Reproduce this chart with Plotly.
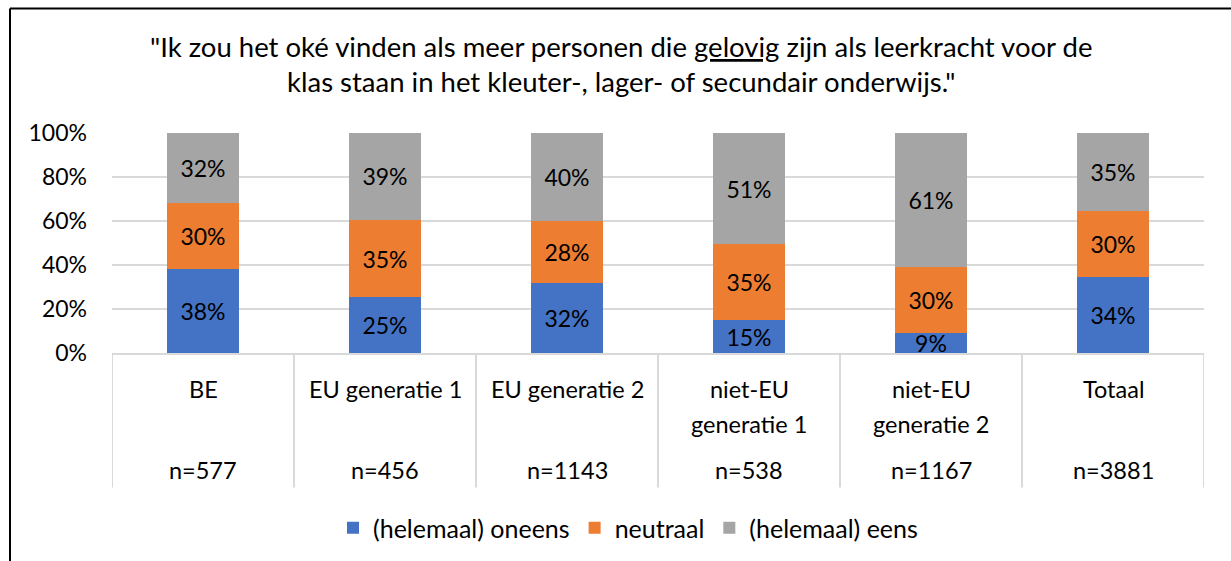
import plotly.graph_objects as go

# Chart data
categories = ['BE', 'EU generatie 1', 'EU generatie 2',
              'niet-EU\ngeneratie 1', 'niet-EU\ngeneratie 2', 'Totaal']
sample_sizes = ['n=577', 'n=456', 'n=1143', 'n=538', 'n=1167', 'n=3881']
series_names = ['(helemaal) oneens', 'neutraal', '(helemaal) eens']
oneens = [38, 25, 32, 15, 9, 34]
neutraal = [30, 35, 28, 35, 30, 30]
eens = [32, 39, 40, 51, 61, 35]
colors = ['#4472C4', '#ED7D31', '#A5A5A5']
title_lines = ['"Ik zou het oké vinden als meer personen die <u>gelovig</u> zijn als leerkracht voor de',
               'klas staan in het kleuter-, lager- of secundair onderwijs."']

# Page geometry (pixels)
W, H = 1231, 561
L, R, T, B = 112, 27, 133, 207
pw = W - L - R
ph = H - T - B


def px_x(x):
    return (x - L) / pw


def px_y(y):
    return (H - B - y) / ph


font_family = 'Lato, Carlito, Calibri, sans-serif'
x_pos = list(range(len(categories)))

fig = go.Figure()
for name, values, color in zip(series_names, [oneens, neutraal, eens], colors):
    fig.add_trace(go.Bar(
        x=x_pos, y=values, name=name,
        marker=dict(color=color, line=dict(width=0)),
        width=0.4,
        text=[f'{v}%' for v in values],
        textposition='inside', insidetextanchor='middle', textangle=0,
        constraintext='none',
        textfont=dict(size=23, color='#000000', family=font_family),
    ))

# Category labels and sample sizes below the axis
annotations = []
for i, (cat, n) in enumerate(zip(categories, sample_sizes)):
    for j, line in enumerate(cat.split('\n')):
        annotations.append(dict(text=line, x=i, y=px_y(390 + 35 * j), xref='x', yref='paper',
                                showarrow=False, font=dict(size=23.5, color='#000000'),
                                xanchor='center', yanchor='middle'))
    annotations.append(dict(text=n, x=i, y=px_y(472), xref='x', yref='paper',
                            showarrow=False, font=dict(size=23.5, color='#000000'),
                            xanchor='center', yanchor='middle'))

# Title
for j, line in enumerate(title_lines):
    annotations.append(dict(text=line, x=px_x(621), y=px_y(46 + 35 * j), xref='paper', yref='paper',
                            showarrow=False, font=dict(size=27.5, color='#000000'),
                            xanchor='center', yanchor='middle'))

# Category separators and chart border
shapes = []
for k in range(len(categories) + 1):
    shapes.append(dict(type='line', x0=k - 0.5, x1=k - 0.5, y0=0, y1=px_y(489),
                       xref='x', yref='paper', line=dict(color='#D9D9D9', width=2)))
shapes.append(dict(type='line', x0=px_x(10), x1=px_x(10), y0=px_y(8), y1=px_y(570),
                   xref='paper', yref='paper', line=dict(color='#000000', width=2)))
shapes.append(dict(type='line', x0=px_x(10), x1=px_x(1240), y0=px_y(8), y1=px_y(8),
                   xref='paper', yref='paper', line=dict(color='#000000', width=2)))

fig.update_layout(
    width=W, height=H,
    margin=dict(l=L, r=R, t=T, b=B),
    barmode='stack', barnorm='percent',
    plot_bgcolor='white', paper_bgcolor='white',
    font=dict(family=font_family, size=23, color='#000000'),
    showlegend=True,
    legend=dict(orientation='h', x=px_x(628), xanchor='center', y=px_y(528), yanchor='middle',
                font=dict(size=25), traceorder='normal', itemwidth=30),
    uniformtext=dict(minsize=23, mode='show'),
    xaxis=dict(range=[-0.5, len(categories) - 0.5], showticklabels=False, showgrid=False,
               zeroline=False, showline=True, linecolor='#D9D9D9', linewidth=2, fixedrange=True),
    yaxis=dict(range=[0, 100], tickvals=[0, 20, 40, 60, 80, 100],
               ticktext=['0%', '20%', '40%', '60%', '80%', '100%'],
               showgrid=True, gridcolor='#D9D9D9', gridwidth=2, zeroline=False,
               showline=False, ticklabelstandoff=24, tickfont=dict(size=23)),
    shapes=shapes,
    annotations=annotations,
)

fig.write_html('out.html', config={'displayModeBar': False},
               post_script="document.body.style.margin='0px';")
